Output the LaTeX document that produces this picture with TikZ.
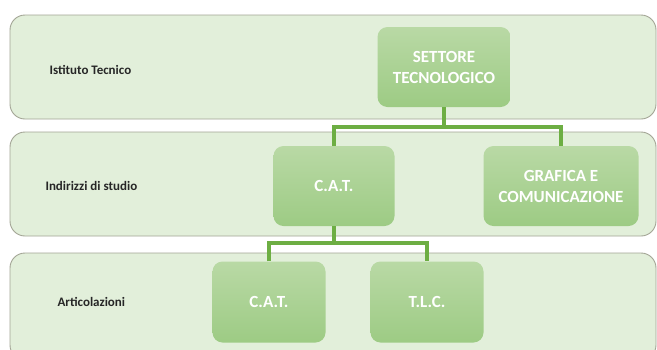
\documentclass[tikz,border=0pt]{standalone}
\usepackage{fontspec}
\setmainfont{Carlito}
\usetikzlibrary{positioning}
\definecolor{bandfill}{HTML}{E2EFDA}
\definecolor{bandline}{HTML}{A3A595}
\definecolor{boxtop}{HTML}{B9D9A5}
\definecolor{boxbot}{HTML}{9DCB84}
\definecolor{conn}{HTML}{6DAE43}
\tikzset{
  band/.style={draw=bandline, line width=0.9pt, fill=bandfill, rounded corners=15pt},
  orgbox/.style={rounded corners=10pt, top color=boxtop, bottom color=boxbot, draw=none,
    text=white, font=\bfseries\fontsize{17}{21}\selectfont, align=center, inner sep=0pt},
  rowlabel/.style={anchor=west, font=\bfseries\fontsize{13}{15}\selectfont, text=black!85},
  link/.style={draw=conn, line width=3.2pt}
}
\begin{document}
\begin{tikzpicture}[x=1pt,y=-1pt]
\useasboundingbox (0,0) rectangle (657,349);
\fill[white] (0,0) rectangle (657,349);
% bands
\draw[band] (10,15) rectangle (656,119);
\draw[band] (10,132) rectangle (656,236);
\draw[band] (10,253) rectangle (656,360);
% row labels
\node[rowlabel] (l1) at (46,70) {Istituto Tecnico};
\node[rowlabel] (l2) at (42,186) {Indirizzi di studio};
\node[rowlabel] (l3) at (54,302) {Articolazioni};
% boxes
\node[orgbox, minimum width=133pt, minimum height=80pt] (st) at (444,67) {SETTORE\\TECNOLOGICO};
\node[orgbox, minimum width=121pt, minimum height=80pt] (cat) at (334,186) {C.A.T.};
\node[orgbox, minimum width=155pt, minimum height=80pt] (gc) at (561,186) {GRAFICA E\\COMUNICAZIONE};
\node[orgbox, minimum width=113pt, minimum height=81pt] (cat2) at (269,302) {C.A.T.};
\node[orgbox, minimum width=113pt, minimum height=81pt] (tlc) at (427,302) {T.L.C.};
% connectors
\coordinate (j1) at (444,127);
\coordinate (j2) at (334,243);
\draw[link] (st.south) -- (j1);
\draw[link] (cat.north) |- (j1) -| (gc.north);
\draw[link] (cat.south) -- (j2);
\draw[link] (cat2.north) |- (j2) -| (tlc.north);
\end{tikzpicture}
\end{document}
